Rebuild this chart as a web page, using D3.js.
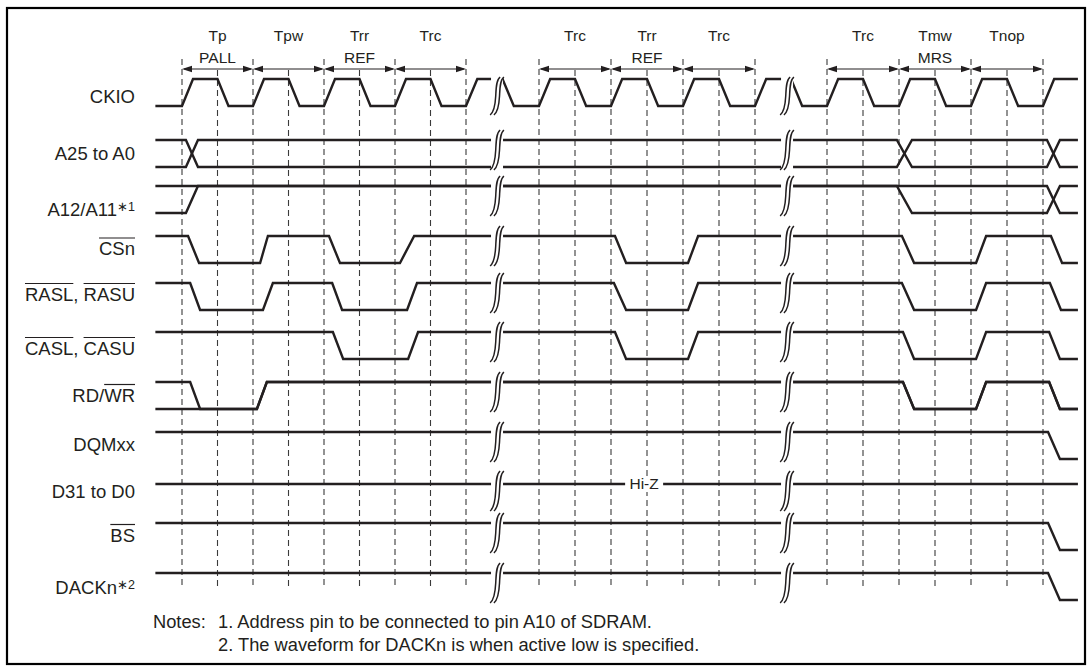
<!DOCTYPE html>
<html><head><meta charset="utf-8">
<script src="https://cdn.jsdelivr.net/npm/d3@7"></script>
<style>
body{margin:0;background:#fff;}
svg{display:block;}
text{font-family:"Liberation Sans",Arial,Helvetica,sans-serif;fill:#231f20;}
</style>
</head><body>
<svg id="chart" width="1092" height="670"></svg>
<script>
// ---------------- data (times in half clock periods) ----------------
const signalNames = ["CKIO","A25 to A0","A12/A11","CSn","RASL, RASU","CASL, CASU","RD/WR","DQMxx","D31 to D0","BS","DACKn"];
const labelSuffix = ["","","∗1","","","","","","","","∗2"];
const labelOverlines = [[],[],[],[[0,3]],[[0,4],[6,10]],[[0,4],[6,10]],[[3,5]],[],[],[[0,2]],[]];

const clockEdges = [0,1,2,3,4,5,6,7,8,9,10,11,12,13,14,15,16,17,18,19,20,21,22,23,24];
const gridTicks = [0,1,2,3,4,5,6,7,8,10,11,12,13,14,15,16,18,19,20,21,22,23,24];
const breakTimes = [8.85, 16.89];

const cycleBounds = [[0,2],[2,4],[4,6],[6,8],[10,12],[12,14],[14,16],[18,20],[20,22],[22,24]];
const cycleNames = ["Tp","Tpw","Trr","Trc","Trc","Trr","Trc","Trc","Tmw","Tnop"];
const commandNames = ["PALL","","REF","","","REF","","","MRS",""];

const addrToggles = [[0.11,0.45],[19.94,20.36],[24.11,24.47]];
const a12HighToggles = [[24.11,24.47]];
const csnToggles = [[0.17,0.48],[2.20,2.42],[4.14,4.45],[6.14,6.54],[12.11,12.42],[14.14,14.42],[20.08,20.42],[22.14,22.42],[24.22,24.53]];
const rasToggles = [[0.23,0.51],[2.28,2.56],[4.23,4.51],[6.34,6.62],[12.08,12.42],[14.14,14.42],[20.08,20.42],[22.14,22.42],[24.19,24.50]];
const casToggles = [[4.25,4.54],[6.37,6.65],[12.11,12.42],[14.14,14.42],[20.11,20.42],[22.14,22.42],[24.17,24.47]];
const rdwrToggles = [[0.23,0.51],[2.11,2.39],[20.11,20.42],[22.14,22.42],[24.17,24.47]];
const rdwrLowToggles = [[2.11,2.39],[20.11,20.42],[22.14,22.42],[24.17,24.47]];
const endToggles = [[24.14,24.47]];

const hiZTime = 12.92;
const notesHead = "Notes:";
const notes = ["1. Address pin to be connected to pin A10 of SDRAM.", "2. The waveform for DACKn is when active low is specified."];

// ---------------- scales ----------------
const T0 = -0.75, T1 = 24.97;
const x = d3.scaleLinear().domain([0,8,10,16,18,24]).range([182,466,539,755,827,1043]);
const yHigh = d3.scaleOrdinal().domain(signalNames).range([79,140,186,236,283,332,382,432,484,523,573]);
const yLabel = d3.scaleOrdinal().domain(signalNames).range([96,153,209,248.5,294,348,395,444,491,535,587]);
const AMP = 27;
const INK = "#231f20";

const svg = d3.select("#chart");
svg.append("rect").attr("width",1092).attr("height",670).attr("fill","#fff");
svg.append("rect").attr("x",7).attr("y",8).attr("width",1078).attr("height",656)
  .attr("fill","none").attr("stroke","#000").attr("stroke-width",2.2);

// ---------------- grid ----------------
svg.append("g").selectAll("line").data(gridTicks).join("line")
  .attr("x1",d=>x(d)).attr("x2",d=>x(d))
  .attr("y1",d=>d%2===0?59:70).attr("y2",589)
  .attr("stroke","#3a3a3a").attr("stroke-width",1.1).attr("stroke-dasharray","6,4");

// ---------------- top annotations ----------------
const ann = svg.append("g");
cycleBounds.forEach((b,i)=>{
  const xa=x(b[0]), xb=x(b[1]), y=69, L=10, W=3.2;
  ann.append("line").attr("x1",xa+2).attr("x2",xb-2).attr("y1",y).attr("y2",y).attr("stroke",INK).attr("stroke-width",1.1);
  ann.append("path").attr("d",`M${xa},${y}L${xa+L},${y-W}L${xa+L},${y+W}Z`).attr("fill",INK);
  ann.append("path").attr("d",`M${xb},${y}L${xb-L},${y-W}L${xb-L},${y+W}Z`).attr("fill",INK);
  const cx = x((b[0]+b[1])/2);
  ann.append("text").attr("x",cx).attr("y",41).attr("text-anchor","middle").style("font-size","15.5px").text(cycleNames[i]);
  if(commandNames[i]) ann.append("text").attr("x",cx).attr("y",62.5).attr("text-anchor","middle").style("font-size","15.5px").text(commandNames[i]);
});

// ---------------- waveforms ----------------
function tracePoints(init, toggles, yh){
  const lv = v => v ? yh : yh + AMP;
  let level = init;
  const pts = [[x(T0), lv(level)]];
  toggles.forEach(([a,b])=>{
    pts.push([x(a), lv(level)]);
    level = 1-level;
    pts.push([x(b), lv(level)]);
  });
  pts.push([x(T1), lv(level)]);
  return pts;
}
const traces = [
  {sig:"CKIO", init:0, toggles: clockEdges.map(e=>[e, e+0.31])},
  {sig:"A25 to A0", init:1, toggles: addrToggles},
  {sig:"A25 to A0", init:0, toggles: addrToggles},
  {sig:"A12/A11", init:1, toggles: a12HighToggles},
  {sig:"A12/A11", init:0, toggles: addrToggles},
  {sig:"CSn", init:1, toggles: csnToggles},
  {sig:"RASL, RASU", init:1, toggles: rasToggles},
  {sig:"CASL, CASU", init:1, toggles: casToggles},
  {sig:"RD/WR", init:1, toggles: rdwrToggles},
  {sig:"RD/WR", init:0, toggles: rdwrLowToggles},
  {sig:"DQMxx", init:1, toggles: endToggles},
  {sig:"BS", init:1, toggles: endToggles},
  {sig:"DACKn", init:1, toggles: endToggles}
];
const line = d3.line();
const wg = svg.append("g").attr("fill","none").attr("stroke",INK).attr("stroke-width",2.4).attr("stroke-linejoin","miter");
traces.forEach(tr=>{
  wg.append("path").attr("d", line(tracePoints(tr.init, tr.toggles, yHigh(tr.sig))));
});
// Hi-Z data bus
const yd = yHigh("D31 to D0");
wg.append("path").attr("d", line([[x(T0),yd],[x(T1),yd]]));
svg.append("rect").attr("x",x(hiZTime)-19).attr("y",yd-8).attr("width",38).attr("height",16).attr("fill","#fff");
svg.append("text").attr("x",x(hiZTime)).attr("y",yd+5.4).attr("text-anchor","middle").style("font-size","15.5px").text("Hi-Z");

// ---------------- break symbols ----------------
const bg = svg.append("g");
signalNames.forEach(s=>{
  const yh = yHigh(s);
  const top = s==="CKIO" ? yh-2 : (s==="D31 to D0" ? yh-13 : yh-10);
  const bot = s==="CKIO" ? yh+AMP+9 : (s==="D31 to D0" ? yh+27 : yh+30);
  breakTimes.forEach(bt=>{
    const bx = x(bt), h = bot-top;
    bg.append("rect").attr("x",bx-6).attr("y",top).attr("width",12).attr("height",h).attr("fill","#fff");
    [-1.9,1.9].forEach(o=>{
      const c = bx+o;
      const d = `M${c+5},${top} C${c+1},${top+h*0.08} ${c+1},${top+h*0.3} ${c+0.6},${top+h*0.5}` +
                ` S${c-1},${top+h*0.92} ${c-5},${bot}`;
      bg.append("path").attr("d",d).attr("fill","none").attr("stroke",INK).attr("stroke-width",1.5);
    });
  });
});

// ---------------- labels ----------------
const lg = svg.append("g");
signalNames.forEach((s,i)=>{
  const cy = yLabel(s);
  const t = lg.append("text").attr("x",135).attr("y",cy+6.5).attr("text-anchor","end").style("font-size","18.5px");
  t.append("tspan").text(s);
  if(labelSuffix[i]) t.append("tspan").attr("dy",-5).style("font-size","12.5px").text(labelSuffix[i]);
  const node = t.node();
  labelOverlines[i].forEach(([a,b])=>{
    const x1 = node.getStartPositionOfChar(a).x;
    const x2 = node.getEndPositionOfChar(b-1).x;
    lg.append("line").attr("x1",x1).attr("x2",x2).attr("y1",cy-10.5).attr("y2",cy-10.5)
      .attr("stroke",INK).attr("stroke-width",1.2);
  });
});

// ---------------- notes ----------------
svg.append("text").attr("x",153).attr("y",627.5).style("font-size","18.3px").text(notesHead);
svg.append("text").attr("x",218).attr("y",627.5).style("font-size","18.3px").text(notes[0]);
svg.append("text").attr("x",218).attr("y",651).style("font-size","18.3px").text(notes[1]);
</script>
</body></html>
